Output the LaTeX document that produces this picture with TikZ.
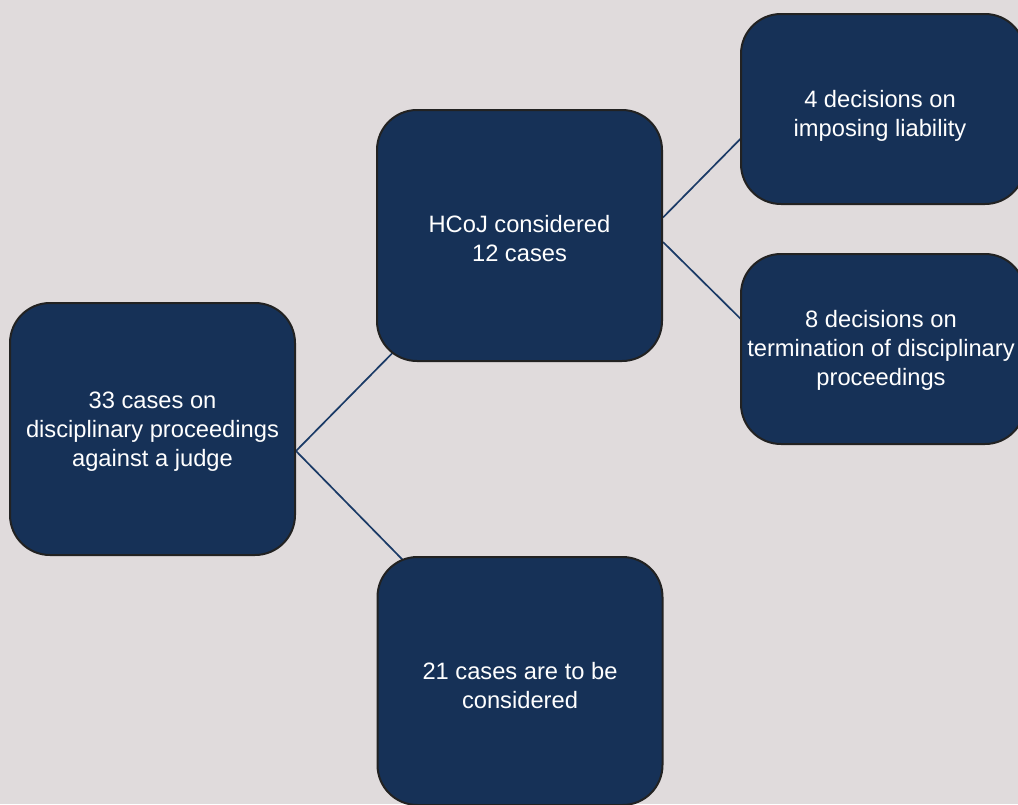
\documentclass[tikz,border=0pt]{standalone}
\usepackage{fontspec}
\setmainfont{Liberation Sans}
\usetikzlibrary{calc,backgrounds}

\definecolor{pagebg}{HTML}{E0DBDC}
\definecolor{boxfill}{HTML}{163157}
\definecolor{boxedge}{HTML}{222222}
\definecolor{linkcol}{HTML}{1A3A66}

\begin{document}
\begin{tikzpicture}[x=1pt, y=-1pt,
  card/.style={draw=boxedge, line width=2pt, fill=boxfill, rounded corners=40pt,
               inner sep=0pt},
  cardtext/.style={text=white, align=center, inner sep=0pt,
               font=\fontsize{23.7}{29}\selectfont},
  link/.style={draw=linkcol, line width=1.7pt}]

\useasboundingbox (0,0) rectangle (1018,804);

% boxes of the tree
\node[card, minimum width=285pt, minimum height=252pt] (A) at (152.5,429) {};
\node[card, minimum width=285pt, minimum height=251pt] (B) at (519.5,235.5) {};
\node[card, minimum width=284pt, minimum height=190pt] (C) at (883,109) {};
\node[card, minimum width=284pt, minimum height=190pt] (D) at (883,349) {};
\node[card, minimum width=285pt, minimum height=248pt] (E) at (520,681) {};

% their texts
\node[cardtext] (At) at ($(A.center)+(0,3)$)
  {33 cases on\\disciplinary proceedings\\against a judge};
\node[cardtext] (Bt) at ($(B.center)+(0,3)$) {HCoJ considered\\12 cases};
\node[cardtext] (Ct) at ($(C.center)+(-3,7)$) {4 decisions on\\imposing liability};
\node[cardtext] (Dt) at ($(D.center)+(-2,1)$)
  {8 decisions on\\termination of disciplinary\\proceedings};
\node[cardtext] (Et) at ($(E.center)+(0,5)$) {21 cases are to be\\considered};

% connector ends
\coordinate (a0) at ($(A.east)+(0,22)$);
\coordinate (b1) at ($(B.south west)+(44,-37)$);
\coordinate (e1) at ($(E.north west)+(44,22)$);
\coordinate (bu) at ($(B.east)+(0,-18)$);
\coordinate (bl) at ($(B.east)+(0,6.5)$);
\coordinate (c1) at ($(C.west)+(20,10)$);
\coordinate (d1) at ($(D.west)+(20,-11)$);

\begin{scope}[on background layer]
  \fill[pagebg] (0,0) rectangle (1018,804);
  \draw[link] (a0) -- (b1);
  \draw[link] (a0) -- (e1);
  \draw[link] (bu) -- (c1);
  \draw[link] (bl) -- (d1);
\end{scope}
\end{tikzpicture}
\end{document}
